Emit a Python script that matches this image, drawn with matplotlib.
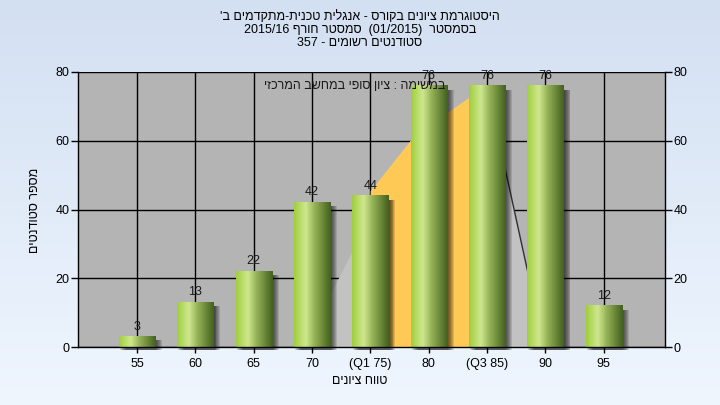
import re
import numpy as np
import matplotlib
matplotlib.use("Agg")
import matplotlib.pyplot as plt
from matplotlib.colors import LinearSegmentedColormap
from matplotlib.patches import Rectangle

# ---- data ----
categories = ['55', '60', '65', '70', '(Q1 75)', '80', '(Q3 85)', '90', '95']
counts = [3, 13, 22, 42, 44, 76, 76, 76, 12]
yticks = [0, 20, 40, 60, 80]

# background distribution area (x in category-index units)
area_x = [2.82, 3.36, 3.69, 3.99, 4.0, 4.68, 5.30, 5.67, 5.99, 6.27, 6.98]
area_y = [0, 17, 28, 39, 45.5, 60, 68, 72.4, 76, 55, 0]
q1_idx, q3_idx = 4.0, 5.99

title_lines = ["היסטוגרמת ציונים בקורס - אנגלית טכנית-מתקדמים ב'",
               "בסמסטר  (01/2015)  סמסטר חורף 2015/16",
               "סטודנטים רשומים - 357"]
note_text = "במשימה : ציון סופי במחשב המרכזי"
xlabel_text = "טווח ציונים"
ylabel_text = "מספר סטודנטים"


def vis(s):
    """Simple visual reordering for RTL Hebrew text."""
    ltr = r"[A-Za-z0-9/.]"
    tokens = re.findall(ltr + r"+|[^A-Za-z0-9/.]", s)
    mirror = {'(': ')', ')': '('}
    out = []
    for t in reversed(tokens):
        if re.match(ltr, t):
            out.append(t)
        else:
            out.append(mirror.get(t, t))
    return ''.join(out)


FAM = ['Liberation Sans', 'DejaVu Sans']
plt.rcParams['font.family'] = FAM

fig = plt.figure(figsize=(7.2, 4.05), dpi=100)

# figure gradient background
bg = fig.add_axes([0, 0, 1, 1], zorder=-10)
top = np.array([211, 224, 242]) / 255
bot = np.array([239, 246, 254]) / 255
t = np.linspace(0, 1, 256)[:, None]
grad = top[None, :] * (1 - t) + bot[None, :] * t
bg.imshow(grad[:, None, :], aspect='auto', extent=[0, 1, 0, 1])
bg.set_axis_off()

ax = fig.add_axes([78 / 720, 1 - 347 / 405, 587 / 720, 275 / 405])
ax.set_facecolor('#b4b4b4')

n = len(categories)
x = np.arange(n)

# grid
for yv in yticks:
    ax.axhline(yv, color='black', lw=1, zorder=0.5)
for xv in x:
    ax.axvline(xv, color='black', lw=1, zorder=0.5)

# background area
ax_arr = np.array(area_x)
ay_arr = np.array(area_y)
ax.fill_between(ax_arr, 0, ay_arr, color='#c2c2c2', lw=0, zorder=1)
mask = (ax_arr >= q1_idx) & (ax_arr <= q3_idx)
ax.fill_between(ax_arr[mask], 0, ay_arr[mask], color='#ffc955', lw=0, zorder=1.1)
rmask = ax_arr >= q3_idx
ax.plot(ax_arr[rmask], ay_arr[rmask], color='#303030', lw=1, zorder=1.2)

# bars
cmap = LinearSegmentedColormap.from_list(
    'bar', [(0, '#9fcd3e'), (0.12, '#b2d95c'), (0.32, '#cfe78f'),
            (0.55, '#98b459'), (0.85, '#5e7c30'), (1.0, '#44601f')])
gimg = np.linspace(0, 1, 128)[None, :]
w = 0.62
for xi, h in zip(x, counts):
    x0 = xi - w / 2
    # shadow
    for k, d in enumerate(np.linspace(0.02, 0.12, 7)):
        ax.add_patch(Rectangle((x0 + d, -0.8), w, h - 0.3, facecolor='black',
                               alpha=0.12, lw=0, zorder=2, clip_on=False))
    ax.imshow(gimg, cmap=cmap, aspect='auto', extent=[x0, x0 + w, 0, h],
              zorder=3, interpolation='bilinear')
    ax.annotate(str(h), (xi, h), xytext=(0, 3), textcoords='offset points',
                ha='center', va='bottom', fontsize=9, color='#1a1a1a', zorder=5)

ax.set_xlim(-1.01, 9.05)
ax.set_ylim(0, 80)
ax.set_xticks(x)
ax.set_xticklabels(categories)
ax.set_yticks(yticks)
ax.tick_params(axis='y', direction='out', length=5, width=1, labelsize=9,
               right=True, labelright=True, colors='black', pad=1)
ax.tick_params(axis='x', direction='out', length=4, width=1, labelsize=9,
               colors='black', pad=4)
for sp in ['left', 'right', 'bottom']:
    ax.spines[sp].set_color('black')
    ax.spines[sp].set_linewidth(1)
    ax.spines[sp].set_zorder(6)
ax.spines['top'].set_visible(False)

# texts
for i, line in enumerate(title_lines):
    fig.text(0.5, 1 - (17 + 13 * i) / 405, vis(line), ha='center', va='center',
             fontsize=9, color='black')
fig.text(445 / 720, 1 - 86 / 405, vis(note_text), ha='right', va='center',
         fontsize=9, color='#1a1a1a', zorder=10)
fig.text(360 / 720, 1 - 381 / 405, vis(xlabel_text), ha='center', va='center',
         fontsize=9, color='black')
fig.text(35 / 720, 1 - 210 / 405, vis(ylabel_text), ha='center', va='center',
         rotation=90, fontsize=9, color='black')

fig.savefig('out.png', dpi=100)
